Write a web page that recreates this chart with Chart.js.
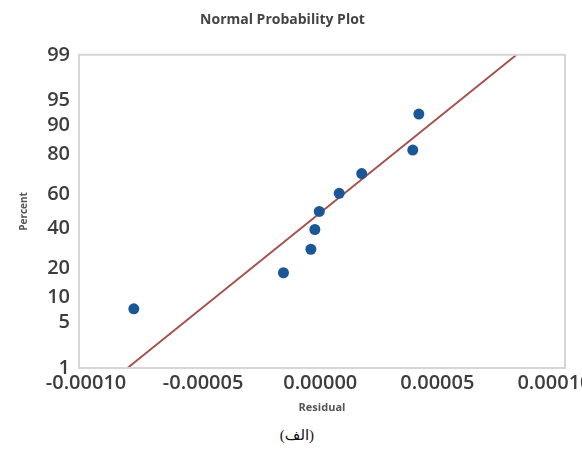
<!DOCTYPE html>
<html>
<head>
<meta charset="utf-8">
<script src="https://cdn.jsdelivr.net/npm/chart.js@4/dist/chart.umd.min.js"></script>
<style>
  html, body { margin: 0; padding: 0; background: #fff; overflow: hidden; }
  #wrap { position: relative; width: 582px; height: 452px; overflow: hidden; }
  #chart { position: absolute; left: 0; top: 0; }
  #caption {
    position: absolute; left: 0; top: 426px; width: 594px; text-align: center;
    font-family: "Liberation Serif", "DejaVu Sans", serif; font-size: 15px; color: #111;
  }
</style>
</head>
<body>
<div id="wrap">
  <canvas id="chart" width="610" height="420"></canvas>
  <div id="caption" dir="rtl">(الف)</div>
</div>
<script>
// residuals and their plotting percents
var residuals = [-0.0000796, -0.0000157, -0.0000040, -0.0000023, -0.0000004,
                 0.0000081, 0.0000177, 0.0000395, 0.0000421];
var percents = [7.4, 18.1, 28.7, 39.4, 50.0, 60.6, 71.3, 81.9, 92.6];

// fitted line, two ends
var fitX = [-0.0000823, 0.0000838];
var fitPct = [1, 99];

var xTicks = [-0.0001, -0.00005, 0, 0.00005, 0.0001];
var yTickPct = [1, 5, 10, 20, 40, 60, 80, 90, 95, 99];

// inverse normal cdf (Acklam), percent -> z, for the probability axis
function probit(pct) {
  var p = pct / 100;
  var a = [-39.69683028665376, 220.9460984245205, -275.9285104469687, 138.3577518672690, -30.66479806614716, 2.506628277459239];
  var b = [-54.47609879822406, 161.5858368580409, -155.6989798598866, 66.80131188771972, -13.28068155288572];
  var c = [-0.007784894002430293, -0.3223964580411365, -2.400758277161838, -2.549732539343734, 4.374664141464968, 2.938163982698783];
  var d = [0.007784695709041462, 0.3224671290700398, 2.445134137142996, 3.754408661907416];
  var pl = 0.02425, q, r;
  if (p < pl) {
    q = Math.sqrt(-2 * Math.log(p));
    return (((((c[0]*q+c[1])*q+c[2])*q+c[3])*q+c[4])*q+c[5]) / ((((d[0]*q+d[1])*q+d[2])*q+d[3])*q+1);
  }
  if (p > 1 - pl) {
    q = Math.sqrt(-2 * Math.log(1 - p));
    return -(((((c[0]*q+c[1])*q+c[2])*q+c[3])*q+c[4])*q+c[5]) / ((((d[0]*q+d[1])*q+d[2])*q+d[3])*q+1);
  }
  q = p - 0.5; r = q * q;
  return (((((a[0]*r+a[1])*r+a[2])*r+a[3])*r+a[4])*r+a[5])*q / (((((b[0]*r+b[1])*r+b[2])*r+b[3])*r+b[4])*r+1);
}

var tickFont = { family: "'Open Sans', 'Liberation Sans', sans-serif", size: 20, weight: '600' };

// light grey frame round the plot
var frame = {
  id: 'frame',
  afterDatasetsDraw: function(chart) {
    var a = chart.chartArea, ctx = chart.ctx;
    ctx.save();
    ctx.strokeStyle = '#d6d6d6';
    ctx.lineWidth = 2;
    ctx.strokeRect(a.left, a.top, a.right - a.left, a.bottom - a.top);
    ctx.restore();
  }
};

new Chart(document.getElementById('chart'), {
  type: 'scatter',
  data: {
    datasets: [{
      label: 'Residual',
      data: residuals.map(function(v, i) { return { x: v, y: probit(percents[i]) }; }),
      backgroundColor: '#1b5796',
      borderColor: '#1b5796',
      borderWidth: 0,
      pointRadius: 5.5,
      order: 0
    }, {
      type: 'line',
      label: 'Fit',
      data: fitX.map(function(v, i) { return { x: v, y: probit(fitPct[i]) }; }),
      borderColor: '#a5534f',
      borderWidth: 2,
      pointRadius: 0,
      fill: false,
      order: 1
    }]
  },
  options: {
    responsive: false,
    animation: false,
    layout: { padding: { left: 0, right: 45, top: 0, bottom: 0 } },
    plugins: {
      legend: { display: false },
      tooltip: { enabled: false },
      title: {
        display: true,
        text: 'Normal Probability Plot',
        color: '#444',
        font: { family: "'Open Sans', sans-serif", size: 14, weight: 'bold' },
        padding: { top: 12, bottom: 26 }
      }
    },
    scales: {
      x: {
        type: 'linear',
        min: -0.000103,
        max: 0.0001045,
        grid: { display: false, drawTicks: false },
        border: { display: false },
        afterBuildTicks: function(s) { s.ticks = xTicks.map(function(v) { return { value: v }; }); },
        afterFit: function(s) { s.height = 52; },
        ticks: {
          autoSkip: false, maxRotation: 0, padding: 3, color: '#3d3d3d', font: tickFont,
          callback: function(v) { return Number(v).toFixed(5); }
        },
        title: {
          display: true, text: 'Residual', color: '#555',
          font: { family: "'Open Sans', sans-serif", size: 11, weight: 'bold' },
          padding: { top: 0, bottom: 6 }
        }
      },
      y: {
        type: 'linear',
        min: probit(1),
        max: probit(99),
        grid: { display: false, drawTicks: false },
        border: { display: false },
        afterBuildTicks: function(s) { s.ticks = yTickPct.map(function(p) { return { value: probit(p) }; }); },
        afterFit: function(s) { s.width = 79; },
        ticks: {
          autoSkip: false, padding: 9, color: '#3d3d3d', font: tickFont,
          callback: function(v, i) { return String(yTickPct[i]); }
        },
        title: {
          display: true, text: 'Percent', color: '#555',
          font: { family: "'Open Sans', sans-serif", size: 10, weight: 'bold' },
          padding: { top: 18, bottom: 0 }
        }
      }
    }
  },
  plugins: [frame]
});
</script>
</body>
</html>
